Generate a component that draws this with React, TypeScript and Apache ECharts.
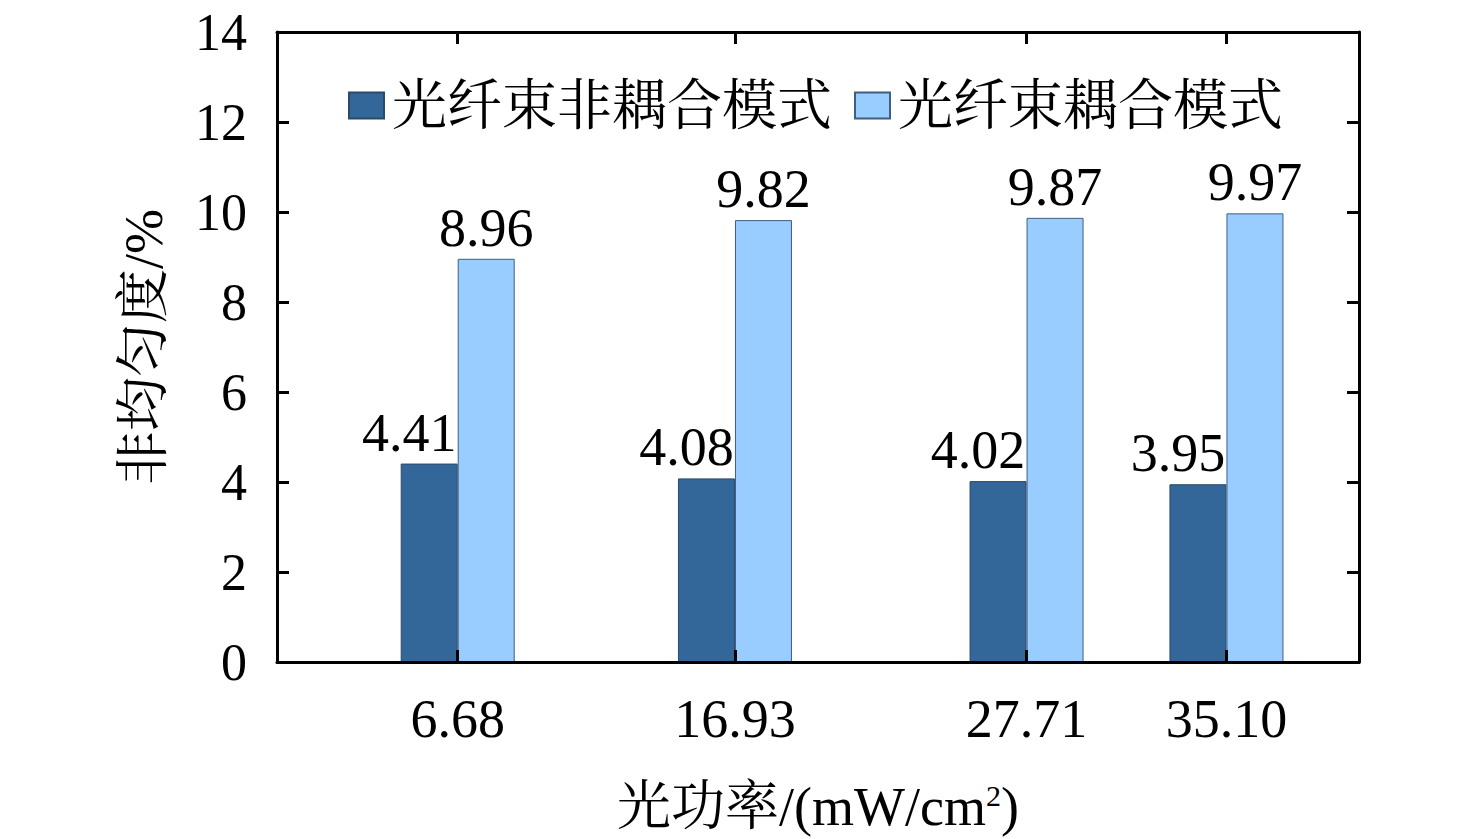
import React, { useEffect, useRef } from "react";
import * as echarts from "echarts";

const powers = [6.68, 16.93, 27.71, 35.1];
const uncoupled = [4.41, 4.08, 4.02, 3.95];
const coupled = [8.96, 9.82, 9.87, 9.97];
const seriesNames = ["光纤束非耦合模式", "光纤束耦合模式"];
const yTicks = [0, 2, 4, 6, 8, 10, 12, 14];

const FONT = "'Liberation Serif', 'Noto Serif CJK SC', 'Noto Sans CJK SC', serif";

export default function App() {
  const ref = useRef<HTMLDivElement>(null);
  useEffect(() => {
    if (!ref.current) return;
    const chart = echarts.init(ref.current, undefined, { renderer: "svg" });
    const axisLine = { show: true, onZero: false, lineStyle: { color: "#000", width: 3 } };
    const tickStyle = { color: "#000", width: 3 };
    chart.setOption({
      animation: false,
      backgroundColor: "#fff",
      textStyle: { fontFamily: FONT },
      grid: { left: 277, right: 117, top: 32, bottom: 172, containLabel: false },
      legend: {
        left: 348,
        top: 78,
        padding: 0,
        itemWidth: 35,
        itemHeight: 26,
        itemGap: 22,
        icon: "rect",
        textStyle: { fontSize: 55, color: "#000", fontFamily: FONT, padding: [0, 0, 0, 3] },
        data: seriesNames,
      },
      xAxis: [
        {
          type: "value",
          min: 0,
          max: 40,
          position: "bottom",
          z: 5,
          axisLine,
          splitLine: { show: false },
          axisTick: { show: true, inside: true, length: 12, lineStyle: tickStyle, customValues: powers },
          axisLabel: {
            show: true,
            customValues: powers,
            formatter: (v: number) => v.toFixed(2),
            fontSize: 54,
            color: "#000",
            fontFamily: FONT,
            margin: 30,
          },
          name: "{a|光功率/(mW/cm}{s|2}{a|)}",
          nameLocation: "middle",
          nameGap: 118,
          nameTextStyle: {
            rich: {
              a: { fontSize: 54, color: "#000", fontFamily: FONT },
              s: { fontSize: 30, color: "#000", fontFamily: FONT, verticalAlign: "top", padding: [0, 0, 24, 0] },
            },
          },
        },
        {
          type: "value",
          min: 0,
          max: 40,
          position: "top",
          z: 5,
          axisLine,
          splitLine: { show: false },
          axisTick: { show: true, inside: true, length: 12, lineStyle: tickStyle, customValues: powers },
          axisLabel: { show: false },
        },
      ],
      yAxis: [
        {
          type: "value",
          min: 0,
          max: 14,
          interval: 2,
          position: "left",
          z: 5,
          axisLine,
          splitLine: { show: false },
          axisTick: { show: true, inside: true, length: 12, lineStyle: tickStyle },
          axisLabel: {
            show: true,
            customValues: yTicks,
            fontSize: 52,
            color: "#000",
            fontFamily: FONT,
            margin: 30,
          },
          name: "非均匀度/%",
          nameLocation: "middle",
          nameGap: 106,
          nameTextStyle: { fontSize: 54, color: "#000", fontFamily: FONT },
        },
        {
          type: "value",
          min: 0,
          max: 14,
          interval: 2,
          position: "right",
          z: 5,
          axisLine,
          splitLine: { show: false },
          axisTick: { show: true, inside: true, length: 12, lineStyle: tickStyle },
          axisLabel: { show: false },
        },
      ],
      series: [
        {
          name: seriesNames[0],
          type: "bar",
          xAxisIndex: 0,
          yAxisIndex: 0,
          barWidth: 57,
          barGap: "0%",
          data: powers.map((p, i) => [p, uncoupled[i]]),
          itemStyle: { color: "#336699", borderColor: "#2a4a6a", borderWidth: 1 },
          label: {
            show: true,
            position: "top",
            distance: 4,
            offset: [-20, 0],
            formatter: (p: any) => p.value[1].toFixed(2),
            fontSize: 54,
            color: "#000",
            fontFamily: FONT,
          },
          z: 1,
        },
        {
          name: seriesNames[1],
          type: "bar",
          xAxisIndex: 0,
          yAxisIndex: 0,
          barWidth: 57,
          barGap: "0%",
          data: powers.map((p, i) => [p, coupled[i]]),
          itemStyle: { color: "#99CCFF", borderColor: "#3f5f7f", borderWidth: 1 },
          label: {
            show: true,
            position: "top",
            distance: 4,
            formatter: (p: any) => p.value[1].toFixed(2),
            fontSize: 54,
            color: "#000",
            fontFamily: FONT,
          },
          z: 1,
        },
      ],
    });
    return () => chart.dispose();
  }, []);
  return (
    <div
      ref={ref}
      style={{ position: "absolute", left: 0, top: 0, width: 1476, height: 839, background: "#fff" }}
    />
  );
}
